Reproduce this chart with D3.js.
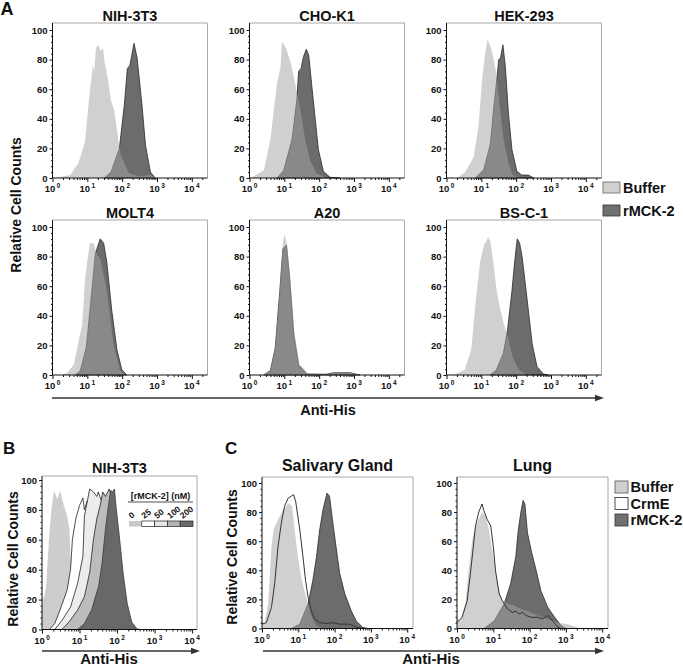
<!DOCTYPE html>
<html><head><meta charset="utf-8">
<script src="https://cdn.jsdelivr.net/npm/d3@7"></script>
<style>
body{margin:0;background:#fff}
svg{display:block}
text{font-family:"Liberation Sans",Arial,sans-serif;font-weight:bold;fill:#111}
</style>
</head><body>
<svg id="c" width="683" height="667"></svg>
<script>
// ---------- DATA (x = log10 of Anti-His intensity, y = relative cell count %) ----------
const xMajorTicks = [1, 10, 100, 1000, 10000];
const yMajorTicks = [0, 20, 40, 60, 80, 100];
const panelATitles = ["NIH-3T3", "CHO-K1", "HEK-293", "MOLT4", "A20", "BS-C-1"];
const legendA = ["Buffer", "rMCK-2"];
const legendC = ["Buffer", "CrmE", "rMCK-2"];
const concLabels = ["0", "25", "50", "100", "200"];

const nih3t3Buffer = [[0.08,0],[0.51,2],[0.74,10],[0.93,24],[1.07,58],[1.16,76],[1.2,72],[1.25,88],[1.31,90],[1.38,86],[1.45,88],[1.49,79],[1.59,67],[1.68,52],[1.77,46],[1.87,29],[1.96,15],[2.2,3],[2.5,1],[2.8,2],[3.0,0]];
const nih3t3Rmck2 = [[1.49,0],[1.68,4],[1.92,20],[2.06,49],[2.15,74],[2.22,76],[2.34,91],[2.43,81],[2.57,49],[2.67,22],[2.81,4],[2.95,0]];
const cho_k1Buffer = [[0.03,0],[0.41,5],[0.6,26],[0.79,64],[0.89,75],[0.93,92],[0.99,90],[1.06,87],[1.17,79],[1.31,64],[1.46,46],[1.6,26],[1.74,12],[1.93,3],[2.22,0]];
const cho_k1Rmck2 = [[0.79,0],[0.98,5],[1.22,26],[1.36,53],[1.41,72],[1.48,74],[1.55,82],[1.63,87],[1.7,83],[1.79,62],[1.89,39],[1.98,19],[2.12,4.5],[2.31,0.5],[2.6,0]];
const hek293Buffer = [[0.3,0],[0.54,4],[0.78,14],[0.92,35],[1.02,66],[1.11,84],[1.18,94],[1.26,89],[1.33,83],[1.43,71],[1.52,50],[1.64,26],[1.78,10],[1.9,2],[2.1,0]];
const hek293Rmck2 = [[0.83,0],[1.07,5.6],[1.26,23],[1.35,46],[1.45,68],[1.5,80],[1.55,81],[1.62,90],[1.69,75],[1.78,43],[1.88,19],[2.02,4.5],[2.16,2],[2.35,2],[2.5,0]];
const molt4Buffer = [[0.28,0],[0.42,1.6],[0.61,7],[0.75,23],[0.85,34],[0.94,66],[1.07,89],[1.18,89],[1.28,81],[1.37,79],[1.56,57],[1.75,21],[1.94,3],[2.09,0]];
const molt4Rmck2 = [[0.66,0],[0.8,3],[0.97,18.6],[1.13,57],[1.23,82],[1.37,92],[1.47,89],[1.56,76],[1.7,44],[1.85,17],[1.99,3.6],[2.13,0]];
const a20Buffer = [[0.41,0],[0.6,3],[0.74,20],[0.87,59],[0.96,90],[1.01,95],[1.08,88],[1.17,66],[1.29,28],[1.43,7],[1.69,0.7],[2.2,0.5],[2.41,1.5],[2.89,1.5],[3.17,0]];
const a20Rmck2 = [[0.41,0],[0.6,3],[0.74,18.6],[0.87,57],[0.96,85.5],[1.06,87.8],[1.15,66],[1.27,27.7],[1.41,7],[1.65,0.7],[2.2,0.5],[2.41,1.5],[2.89,1.5],[3.17,0]];
const bsc1Buffer = [[0.15,0],[0.26,0.7],[0.52,3.4],[0.71,17],[0.84,50],[0.97,77],[1.08,88],[1.2,93],[1.26,90],[1.35,75],[1.44,57],[1.53,46],[1.64,35],[1.76,26],[1.9,12],[2.08,3.4],[2.3,0]];
const bsc1Rmck2 = [[1.25,0],[1.43,3.4],[1.63,14.6],[1.75,30],[1.88,57],[1.95,75],[2.03,92],[2.1,89],[2.17,80],[2.32,50],[2.46,21],[2.6,5.6],[2.78,0.7],[2.92,0]];

const titrate0 = [[0,0],[0,24],[0.05,20],[0.11,29],[0.19,62],[0.25,80],[0.32,93],[0.41,87],[0.48,93],[0.58,83],[0.67,76],[0.73,67],[0.76,49],[0.81,33],[0.9,13],[1.0,4],[1.13,0]];
const titrate25 = [[0.2,0],[0.34,4],[0.48,13],[0.67,26.5],[0.76,40],[0.81,60],[0.9,74],[1.0,83],[1.09,88],[1.13,80],[1.2,86],[1.3,80],[1.4,60],[1.5,30],[1.6,8],[1.7,0]];
const titrate50 = [[0.34,0],[0.53,6],[0.76,15],[0.95,31],[1.09,49],[1.13,76],[1.21,86],[1.27,94],[1.37,92],[1.46,89],[1.5,92],[1.6,85],[1.7,70],[1.8,45],[1.9,15],[2.0,0]];
const titrate100 = [[0.53,0],[0.72,5],[0.95,13],[1.13,22],[1.27,38],[1.37,60],[1.46,74],[1.55,83],[1.62,92],[1.69,89],[1.79,94],[1.88,88],[1.97,70],[2.07,45],[2.15,20],[2.25,5],[2.35,0]];
const titrate200 = [[0.95,0],[1.13,4],[1.32,13],[1.51,29],[1.6,44.5],[1.69,67],[1.77,83],[1.83,93],[1.88,92],[1.93,94],[1.97,83],[2.07,60],[2.16,38],[2.27,17.5],[2.39,5],[2.53,0.4],[2.62,0]];

const salivaryBuffer = [[0,0],[0,5],[0.07,4],[0.17,17],[0.26,56],[0.32,68],[0.44,75],[0.58,81.5],[0.72,86],[0.83,84],[0.9,68],[0.99,49],[1.08,35],[1.17,26],[1.27,17],[1.36,8],[1.5,2],[1.68,0]];
const salivaryCrmE = [[0,3],[0.12,4],[0.26,14.5],[0.35,31],[0.44,56],[0.53,72],[0.62,84],[0.72,89.6],[0.81,91],[0.87,92],[0.93,87],[1.04,68],[1.13,49],[1.2,33],[1.27,21.5],[1.36,12],[1.45,6.5],[1.59,4],[1.77,3.5],[1.95,4],[2.14,3],[2.41,3],[2.6,1],[2.78,0]];
const salivaryRmck2 = [[0.81,0],[1.04,3],[1.27,17],[1.4,33],[1.5,49],[1.59,68],[1.68,81.5],[1.79,93],[1.86,91],[1.94,75],[2.03,58],[2.14,38],[2.28,24],[2.46,12],[2.6,5],[2.78,0.7],[2.92,0]];
const lungBuffer = [[0,0],[0,7.7],[0.09,5],[0.23,17],[0.32,40],[0.42,61],[0.51,70.5],[0.6,75],[0.69,80],[0.79,77],[0.88,68],[0.97,54],[1.06,40],[1.16,26],[1.25,19],[1.39,17],[1.57,16],[1.76,13.5],[1.94,12],[2.22,9],[2.5,6.5],[2.78,4],[3.06,3],[3.33,0.7],[3.43,0]];
const lungCrmE = [[0,4],[0.14,7.7],[0.28,19],[0.37,38],[0.44,54],[0.51,70.5],[0.6,80],[0.69,85.6],[0.74,81],[0.83,75],[0.93,70.5],[1.0,56.5],[1.06,40],[1.16,24],[1.25,19],[1.39,13.5],[1.53,11],[1.62,12],[1.71,10],[1.81,11],[1.9,9],[2.04,7.7],[2.22,7.7],[2.36,6.5],[2.5,9],[2.64,5],[2.78,1],[2.87,0]];
const lungRmck2 = [[0.74,0],[1.02,5],[1.3,17],[1.48,31],[1.62,49.5],[1.69,68],[1.76,80],[1.82,88],[1.87,85.6],[1.94,66],[2.04,54],[2.18,40],[2.31,26],[2.5,14.6],[2.69,7.7],[2.87,2],[3.0,0]];

// ---------- STYLES ----------
const C_BUF_BOX = "#d0d0d0", C_BUF_FILL = "#a4a4a4", BUF_OP = 0.52;
const C_DARK = "#6c6c6c", C_DARK_STROKE = "#2b2b2b";
const FONT = '"Liberation Sans",Arial,sans-serif';

const svg = d3.select("#c");

function panel(cfg) {
  const x = d3.scaleLog().domain([1, Math.pow(10, cfg.maxDec)]).range([cfg.x0, cfg.x1]);
  const y = d3.scaleLinear().domain([0, 100]).range([cfg.y0, cfg.y100]);
  const g = svg.append("g");
  const area = d3.area()
    .x(d => x(Math.pow(10, d[0])))
    .y0(cfg.y0).y1(d => y(d[1]));
  const line = d3.line().x(d => x(Math.pow(10, d[0]))).y(d => y(d[1]));
  cfg.series.forEach(s => {
    if (s.type === "line") {
      g.append("path").attr("d", line(s.data)).attr("fill", "none")
        .attr("stroke", s.stroke).attr("stroke-width", 1);
    } else {
      g.append("path").attr("d", area(s.data))
        .attr("fill", s.fill).attr("fill-opacity", s.opacity == null ? 1 : s.opacity)
        .attr("stroke", s.stroke || "none").attr("stroke-width", 0.8)
        .attr("stroke-linejoin", "round");
    }
  });
  // frame (top/right grey)
  g.append("path").attr("d", `M${cfg.x0},${cfg.yTop}H${cfg.x1}V${cfg.y0}`)
    .attr("fill", "none").attr("stroke", "#a8a8a8").attr("stroke-width", 1);
  // axes lines
  g.append("path").attr("d", `M${cfg.x0},${cfg.yTop}V${cfg.y0}H${cfg.x1}`)
    .attr("fill", "none").attr("stroke", "#111").attr("stroke-width", 1);

  // x ticks
  const minors = [];
  for (let k = 0; k <= 4; k++) for (let m = 2; m <= 9; m++) {
    const v = m * Math.pow(10, k);
    if (v <= Math.pow(10, cfg.maxDec)) minors.push(v);
  }
  const xa = g.append("g").attr("transform", `translate(0,${cfg.y0})`)
    .call(d3.axisBottom(x).tickValues(xMajorTicks).tickSize(4).tickFormat(""));
  const xm = g.append("g").attr("transform", `translate(0,${cfg.y0})`)
    .call(d3.axisBottom(x).tickValues(minors).tickSize(2).tickFormat(""));
  [xa, xm].forEach(a => { a.select(".domain").remove(); a.selectAll("line").attr("stroke", "#111"); });
  xMajorTicks.forEach((v, i) => {
    const t = g.append("text").attr("x", x(v)).attr("y", cfg.y0 + 14)
      .attr("text-anchor", "middle").style("font-size", "9.5px");
    t.append("tspan").text("10");
    t.append("tspan").attr("dx", 1.5).attr("dy", -4).style("font-size", "6.5px").text(String(i));
  });

  // y ticks
  const yminors = d3.range(0, 101, 4).filter(v => v % 20 !== 0);
  const ya = g.append("g").attr("transform", `translate(${cfg.x0},0)`)
    .call(d3.axisLeft(y).tickValues(yMajorTicks).tickSize(3).tickPadding(2));
  const ym = g.append("g").attr("transform", `translate(${cfg.x0},0)`)
    .call(d3.axisLeft(y).tickValues(yminors).tickSize(1.5).tickFormat(""));
  [ya, ym].forEach(a => { a.select(".domain").remove(); a.selectAll("line").attr("stroke", "#111"); });
  ya.selectAll("text").style("font-family", FONT).style("font-weight", "bold")
    .style("font-size", "9.5px").attr("fill", "#111");

  // title
  g.append("text").attr("x", (cfg.x0 + cfg.x1) / 2).attr("y", cfg.titleY)
    .attr("text-anchor", "middle").style("font-size", cfg.titleSize + "px").text(cfg.title);
}

// ---------- PANEL A ----------
const colX = [52.5, 249.5, 446.5];
const rowTop = [23, 220];
const dataA = [
  [nih3t3Buffer, nih3t3Rmck2], [cho_k1Buffer, cho_k1Rmck2], [hek293Buffer, hek293Rmck2],
  [molt4Buffer, molt4Rmck2], [a20Buffer, a20Rmck2], [bsc1Buffer, bsc1Rmck2]
];
panelATitles.forEach((title, i) => {
  const r = Math.floor(i / 3), c = i % 3;
  const top = rowTop[r];
  panel({
    x0: colX[c], x1: colX[c] + 155, yTop: top, y100: top + 7, y0: top + 155,
    maxDec: 4.45, title, titleY: top - 2.5, titleSize: 14.5,
    series: [
      { data: dataA[i][1], fill: C_DARK, stroke: C_DARK_STROKE },
      { data: dataA[i][0], fill: C_BUF_FILL, opacity: BUF_OP }
    ]
  });
});

// ---------- PANEL B ----------
panel({
  x0: 42, x1: 197, yTop: 476, y100: 480, y0: 629.5, maxDec: 4.13,
  title: "NIH-3T3", titleY: 473, titleSize: 14.5,
  series: [
    { data: titrate0, fill: "#cdcdcd" },
    { data: titrate25, fill: "#ffffff", stroke: "#222" },
    { data: titrate50, fill: "#ececec", stroke: "#222" },
    { data: titrate100, fill: "#bcbcbc", stroke: "#222" },
    { data: titrate200, fill: "#686868", stroke: "#3a3a3a" }
  ]
});

// ---------- PANEL C ----------
[[262, "Salivary Gland", salivaryBuffer, salivaryCrmE, salivaryRmck2],
 [457, "Lung", lungBuffer, lungCrmE, lungRmck2]].forEach(([x0, title, buf, crm, rm]) => {
  panel({
    x0, x1: x0 + 151, yTop: 477, y100: 483, y0: 628.5, maxDec: 4.16,
    title, titleY: 471, titleSize: 16,
    series: [
      { data: rm, fill: C_DARK, stroke: C_DARK_STROKE },
      { data: buf, fill: C_BUF_FILL, opacity: BUF_OP },
      { data: crm, type: "line", stroke: "#333" }
    ]
  });
});

// ---------- LEGENDS ----------
const legA = svg.append("g");
legendA.forEach((name, i) => {
  const yy = 182 + i * 23;
  legA.append("rect").attr("x", 603).attr("y", yy).attr("width", 17).attr("height", 11)
    .attr("fill", i === 0 ? C_BUF_BOX : "#707070").attr("stroke", i === 0 ? "#666" : "#333").attr("stroke-width", 0.8);
  legA.append("text").attr("x", 623).attr("y", yy + 10.5).style("font-size", "14.5px").text(name);
});

const legC = svg.append("g");
const legCFill = [C_BUF_BOX, "#ffffff", "#707070"];
const legCStroke = ["#555", "#222", "#333"];
legendC.forEach((name, i) => {
  const yy = 481 + i * 16.5;
  legC.append("rect").attr("x", 615).attr("y", yy).attr("width", 13).attr("height", 12)
    .attr("fill", legCFill[i]).attr("stroke", legCStroke[i]).attr("stroke-width", 0.8);
  legC.append("text").attr("x", 630.5).attr("y", yy + 11).style("font-size", "14.6px").text(name);
});

// Panel B concentration legend
const legB = svg.append("g");
legB.append("text").attr("x", 160.5).attr("y", 499).attr("text-anchor", "middle")
  .style("font-size", "9px").text("[rMCK-2] (nM)");
legB.append("line").attr("x1", 128).attr("x2", 193).attr("y1", 502).attr("y2", 502)
  .attr("stroke", "#222").attr("stroke-width", 0.8);
const cellFill = ["#c8c8c8", "#ffffff", "#e6e6e6", "#b4b4b4", "#6a6a6a"];
const cw = 12.8;
concLabels.forEach((lab, i) => {
  const cx = 129 + i * cw;
  legB.append("rect").attr("x", cx).attr("y", 521).attr("width", cw).attr("height", 5.5)
    .attr("fill", cellFill[i]).attr("stroke", i === 0 ? "none" : "#222").attr("stroke-width", 0.7);
  legB.append("text").attr("transform", `translate(${cx + 2.5},${519}) rotate(-38)`)
    .style("font-size", "8.5px").text(lab);
});

// ---------- AXIS TITLES, ARROWS, LETTERS ----------
function arrow(x1, x2, yy) {
  svg.append("line").attr("x1", x1).attr("x2", x2 - 6).attr("y1", yy).attr("y2", yy)
    .attr("stroke", "#333").attr("stroke-width", 1.3);
  svg.append("path").attr("d", `M${x2},${yy}L${x2 - 9},${yy - 3.2}L${x2 - 9},${yy + 3.2}Z`).attr("fill", "#333");
}
arrow(52, 604, 398);
arrow(42, 200, 651);
arrow(263, 604, 651);
svg.append("text").attr("x", 328).attr("y", 415).attr("text-anchor", "middle").style("font-size", "14.5px").text("Anti-His");
svg.append("text").attr("x", 109).attr("y", 664).attr("text-anchor", "middle").style("font-size", "15px").text("Anti-His");
svg.append("text").attr("x", 431).attr("y", 664).attr("text-anchor", "middle").style("font-size", "15px").text("Anti-His");

function ylab(xc, yc) {
  svg.append("text").attr("transform", `translate(${xc},${yc}) rotate(-90)`)
    .attr("text-anchor", "middle").style("font-size", "14px").text("Relative Cell Counts");
}
ylab(20.5, 205);
ylab(18, 559);
ylab(237, 557);

svg.append("text").attr("x", 0.5).attr("y", 15).style("font-size", "18px").text("A");
svg.append("text").attr("x", 3).attr("y", 453.5).style("font-size", "17px").text("B");
svg.append("text").attr("x", 225).attr("y", 453.5).style("font-size", "17px").text("C");
</script>
</body></html>
